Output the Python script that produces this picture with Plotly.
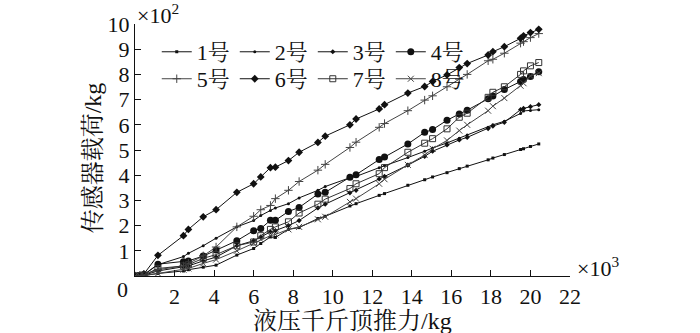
import plotly.graph_objects as go

# Hydraulic jack thrust (x10^3 kg)
thrust = [0, 0.25, 0.45, 1.16, 2.45, 2.7, 3.45, 4.1, 5.15, 6.0, 6.36, 6.85, 7.1, 7.76, 8.3,
          9.25, 9.62, 10.87, 11.18, 12.35, 12.62, 13.8, 14.65, 15.05, 15.78, 16.4, 16.8,
          17.86, 18.1, 18.68, 19.5, 19.65, 20.0, 20.42]

# Sensor load (x10^2 kg)
s1 = [0, 0.0, 0.02, 0.1, 0.2, 0.25, 0.35, 0.43, 0.83, 1.09, 1.29, 1.55, 1.53, 1.85, 1.92,
      2.28, 2.37, 2.78, 2.87, 3.2, 3.27, 3.6, 3.82, 3.93, 4.1, 4.26, 4.36,
      4.61, 4.68, 4.82, 5.02, 5.05, 5.14, 5.24]
s2 = [0, 0.02, 0.05, 0.45, 0.77, 0.9, 1.2, 1.5, 1.95, 2.2, 2.4, 2.6, 2.7, 2.87, 3.1,
      3.4, 3.55, 3.9, 3.95, 4.3, 4.38, 4.7, 4.95, 5.08, 5.28, 5.47, 5.6,
      5.9, 6.0, 6.14, 6.45, 6.55, 6.57, 6.6]
s3 = [0, 0.01, 0.03, 0.2, 0.35, 0.4, 0.6, 0.75, 1.2, 1.4, 1.55, 1.75, 1.8, 2.0, 2.2,
      2.7, 2.85, 3.3, 3.4, 3.85, 3.95, 4.4, 4.75, 4.95, 5.2, 5.4, 5.5,
      5.85, 5.95, 6.1, 6.6, 6.65, 6.72, 6.8]
s4 = [0, 0.02, 0.05, 0.47, 0.57, 0.6, 0.79, 1.03, 1.4, 1.8, 1.88, 2.21, 2.21, 2.56, 2.72,
      3.25, 3.32, 3.92, 4.02, 4.62, 4.72, 5.24, 5.7, 5.81, 6.18, 6.43, 6.58,
      7.03, 7.14, 7.4, 7.72, 7.8, 7.92, 8.11]
s5 = [0, 0.02, 0.05, 0.25, 0.4, 0.5, 0.8, 1.15, 1.95, 2.37, 2.63, 2.8, 3.07, 3.4, 3.75,
      4.2, 4.43, 5.1, 5.31, 5.9, 6.05, 6.56, 6.98, 7.15, 7.51, 7.81, 8.0,
      8.54, 8.6, 8.84, 9.24, 9.3, 9.46, 9.62]
s6 = [0, 0.03, 0.08, 0.82, 1.6, 1.85, 2.35, 2.63, 3.32, 3.66, 3.93, 4.3, 4.32, 4.58, 4.91,
      5.3, 5.55, 6.0, 6.23, 6.63, 6.8, 7.26, 7.52, 7.72, 7.98, 8.27, 8.43,
      8.77, 8.9, 9.1, 9.43, 9.53, 9.66, 9.79]
s7 = [0, 0.02, 0.04, 0.3, 0.4, 0.45, 0.7, 0.85, 1.2, 1.35, 1.6, 1.85, 1.95, 2.15, 2.5,
      2.85, 3.05, 3.47, 3.66, 4.06, 4.3, 4.91, 5.27, 5.45, 5.84, 6.3, 6.46,
      7.09, 7.29, 7.51, 8.0, 8.14, 8.34, 8.47]
s8 = [0, 0.01, 0.02, 0.1, 0.25, 0.3, 0.5, 0.65, 1.0, 1.3, 1.45, 1.6, 1.65, 1.85, 1.95,
      2.25, 2.35, 2.94, 3.07, 3.66, 3.84, 4.41, 4.8, 5.05, 5.38, 5.77, 6.0,
      6.56, 6.74, 7.06, 7.55, 7.65, 7.94, 8.05]

names = ["1号", "2号", "3号", "4号", "5号", "6号", "7号", "8号"]
series = [s1, s2, s3, s4, s5, s6, s7, s8]

x_ticks = list(range(2, 23, 2))
x_ticktext = [str(v) for v in x_ticks]
y_ticks = list(range(1, 11))
y_ticktext = [str(v) for v in y_ticks]

x_title = "液压千斤顶推力/kg"
y_title = "传感器载荷/kg"

styles = [
    dict(symbol="square", size=3, color="#111"),
    dict(symbol="circle", size=3, color="#111"),
    dict(symbol="diamond", size=4, color="#111"),
    dict(symbol="circle", size=7, color="#111"),
    dict(symbol="cross-thin", size=6, color="#444"),
    dict(symbol="diamond", size=6, color="#111"),
    dict(symbol="square-open", size=6, color="#333"),
    dict(symbol="x-thin", size=6, color="#444"),
]

FONT = "Liberation Serif, Noto Serif CJK SC, Noto Sans CJK SC, serif"
TICK = 22
TITLE = 24

fig = go.Figure()
for i, (nm, ys, st) in enumerate(zip(names, series, styles)):
    mk = dict(symbol=st["symbol"], size=st["size"], color=st["color"])
    if "open" in st["symbol"] or "thin" in st["symbol"]:
        mk["line"] = dict(width=1, color=st["color"])
    fig.add_trace(go.Scatter(
        x=thrust, y=ys, name=nm, mode="lines+markers",
        line=dict(color=st["color"], width=1),
        marker=mk,
        legend="legend" if i < 4 else "legend2",
    ))

legend_common = dict(
    orientation="h", xanchor="left", yanchor="middle",
    font=dict(family=FONT, size=TICK, color="#111"),
    bgcolor="rgba(0,0,0,0)", borderwidth=0,
    itemwidth=30, tracegroupgap=0,
)

fig.update_layout(
    width=700, height=333,
    margin=dict(l=135, r=130, t=24, b=57, autoexpand=False),
    paper_bgcolor="white", plot_bgcolor="white",
    font=dict(family=FONT, size=TICK, color="#111"),
    legend=dict(x=0.05, y=0.889, **legend_common),
    legend2=dict(x=0.05, y=0.782, **legend_common),
    xaxis=dict(
        range=[0, 22], tickvals=x_ticks, ticktext=x_ticktext,
        ticks="inside", ticklen=6, tickwidth=1, tickcolor="#111",
        showline=True, linecolor="#111", linewidth=1.2,
        showgrid=False, zeroline=False, automargin=False,
        tickfont=dict(family=FONT, size=TICK, color="#111"),
    ),
    yaxis=dict(
        range=[0, 10], tickvals=y_ticks, ticktext=y_ticktext,
        ticks="inside", ticklen=6, tickwidth=1, tickcolor="#111",
        showline=True, linecolor="#111", linewidth=1.2,
        showgrid=False, zeroline=False, automargin=False,
        tickfont=dict(family=FONT, size=TICK, color="#111"),
    ),
    annotations=[
        dict(text=x_title, xref="paper", yref="paper", x=0.5, y=-0.178,
             xanchor="center", yanchor="middle", showarrow=False,
             font=dict(family=FONT, size=TITLE, color="#111")),
        dict(text=y_title, xref="paper", yref="paper", x=-0.097, y=0.47,
             xanchor="center", yanchor="middle", showarrow=False, textangle=-90,
             font=dict(family=FONT, size=TITLE, color="#111")),
        dict(text="0", xref="paper", yref="paper", x=-0.028, y=-0.055,
             xanchor="center", yanchor="middle", showarrow=False,
             font=dict(family=FONT, size=TICK, color="#111")),
        dict(text="×10<sup>2</sup>", xref="paper", yref="paper", x=0.0, y=1.04,
             xanchor="left", yanchor="middle", showarrow=False,
             font=dict(family=FONT, size=TICK, color="#111")),
        dict(text="×10<sup>3</sup>", xref="paper", yref="paper", x=1.012, y=0.035,
             xanchor="left", yanchor="middle", showarrow=False,
             font=dict(family=FONT, size=TICK, color="#111")),
    ],
)

fig.write_html(
    "out.html",
    config={"displayModeBar": False},
    post_script="document.body.style.margin='0';document.body.style.padding='0';",
)
